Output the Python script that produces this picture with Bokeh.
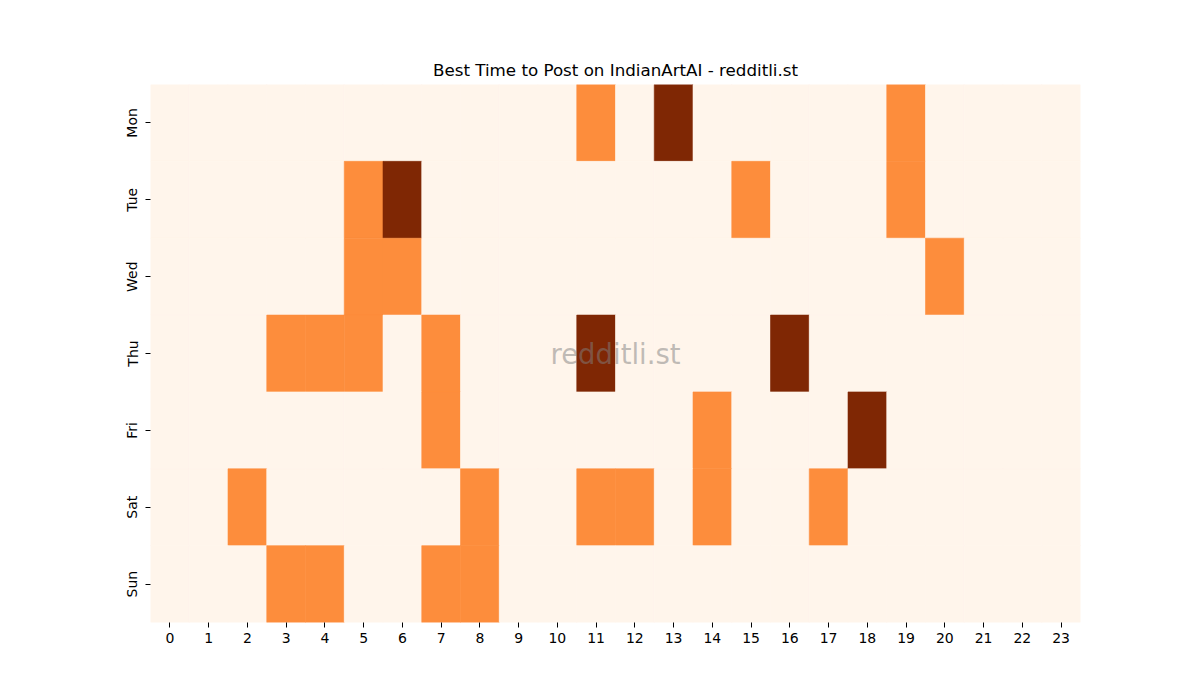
from bokeh.plotting import figure
from bokeh.models import Range1d, FixedTicker, ColumnDataSource, Label
from bokeh.transform import linear_cmap
from bokeh.embed import file_html
from bokeh.resources import INLINE

# days (top to bottom) and hours of the day
days = ["Mon", "Tue", "Wed", "Thu", "Fri", "Sat", "Sun"]
hours = list(range(24))

# activity level per hour (0 = low, 1 = good, 2 = best)
mon = [0, 0, 0, 0, 0, 0, 0, 0, 0, 0, 0, 1, 0, 2, 0, 0, 0, 0, 0, 1, 0, 0, 0, 0]
tue = [0, 0, 0, 0, 0, 1, 2, 0, 0, 0, 0, 0, 0, 0, 0, 1, 0, 0, 0, 1, 0, 0, 0, 0]
wed = [0, 0, 0, 0, 0, 1, 1, 0, 0, 0, 0, 0, 0, 0, 0, 0, 0, 0, 0, 0, 1, 0, 0, 0]
thu = [0, 0, 0, 1, 1, 1, 0, 1, 0, 0, 0, 2, 0, 0, 0, 0, 2, 0, 0, 0, 0, 0, 0, 0]
fri = [0, 0, 0, 0, 0, 0, 0, 1, 0, 0, 0, 0, 0, 0, 1, 0, 0, 0, 2, 0, 0, 0, 0, 0]
sat = [0, 0, 1, 0, 0, 0, 0, 0, 1, 0, 0, 1, 1, 0, 1, 0, 0, 1, 0, 0, 0, 0, 0, 0]
sun = [0, 0, 0, 1, 1, 0, 0, 1, 1, 0, 0, 0, 0, 0, 0, 0, 0, 0, 0, 0, 0, 0, 0, 0]

levels = [mon, tue, wed, thu, fri, sat, sun]
palette = ["#fff5eb", "#fd8d3c", "#7f2704"]

xs, ys, vals = [], [], []
for row, day_vals in enumerate(levels):
    for h, v in zip(hours, day_vals):
        xs.append(h)
        ys.append(row)
        vals.append(v)
source = ColumnDataSource(data=dict(x=xs, y=ys, v=vals))

p = figure(
    title="Best Time to Post on IndianArtAI - redditli.st",
    width=1184, height=684,
    x_range=Range1d(-0.5, 23.5), y_range=Range1d(6.5, -0.5),
    output_backend="svg", toolbar_location=None,
    min_border_left=150, min_border_right=104,
    min_border_top=84, min_border_bottom=62,
)
p.frame_width = 930
p.frame_height = 538

cmap = linear_cmap("v", palette, 0, 2)
p.rect(x="x", y="y", width=1, height=1, source=source,
       fill_color=cmap, line_color=cmap, line_width=0.6)

# watermark in the middle
p.add_layout(Label(x=11.5, y=3, text="redditli.st", text_align="center",
                   text_baseline="middle", text_color="gray", text_alpha=0.5,
                   text_font="DejaVu Sans", text_font_size="27.5px"))

p.title.align = "center"
p.title.text_font = "DejaVu Sans"
p.title.text_font_style = "normal"
p.title.text_font_size = "16.7px"
p.title.text_color = "black"

p.xaxis.ticker = FixedTicker(ticks=hours)
p.yaxis.ticker = FixedTicker(ticks=list(range(len(days))))
p.yaxis.major_label_overrides = {i: d for i, d in enumerate(days)}
p.yaxis.major_label_orientation = "vertical"

for ax in (p.xaxis, p.yaxis):
    ax.axis_line_color = None
    ax.minor_tick_line_color = None
    ax.major_tick_out = 5
    ax.major_tick_in = 0
    ax.major_tick_line_color = "black"
    ax.major_label_text_font = "DejaVu Sans"
    ax.major_label_text_font_size = "14px"
    ax.major_label_text_color = "black"

p.grid.visible = False
p.outline_line_color = None
p.background_fill_color = "white"

open("out.html", "w").write(file_html(p, INLINE))
